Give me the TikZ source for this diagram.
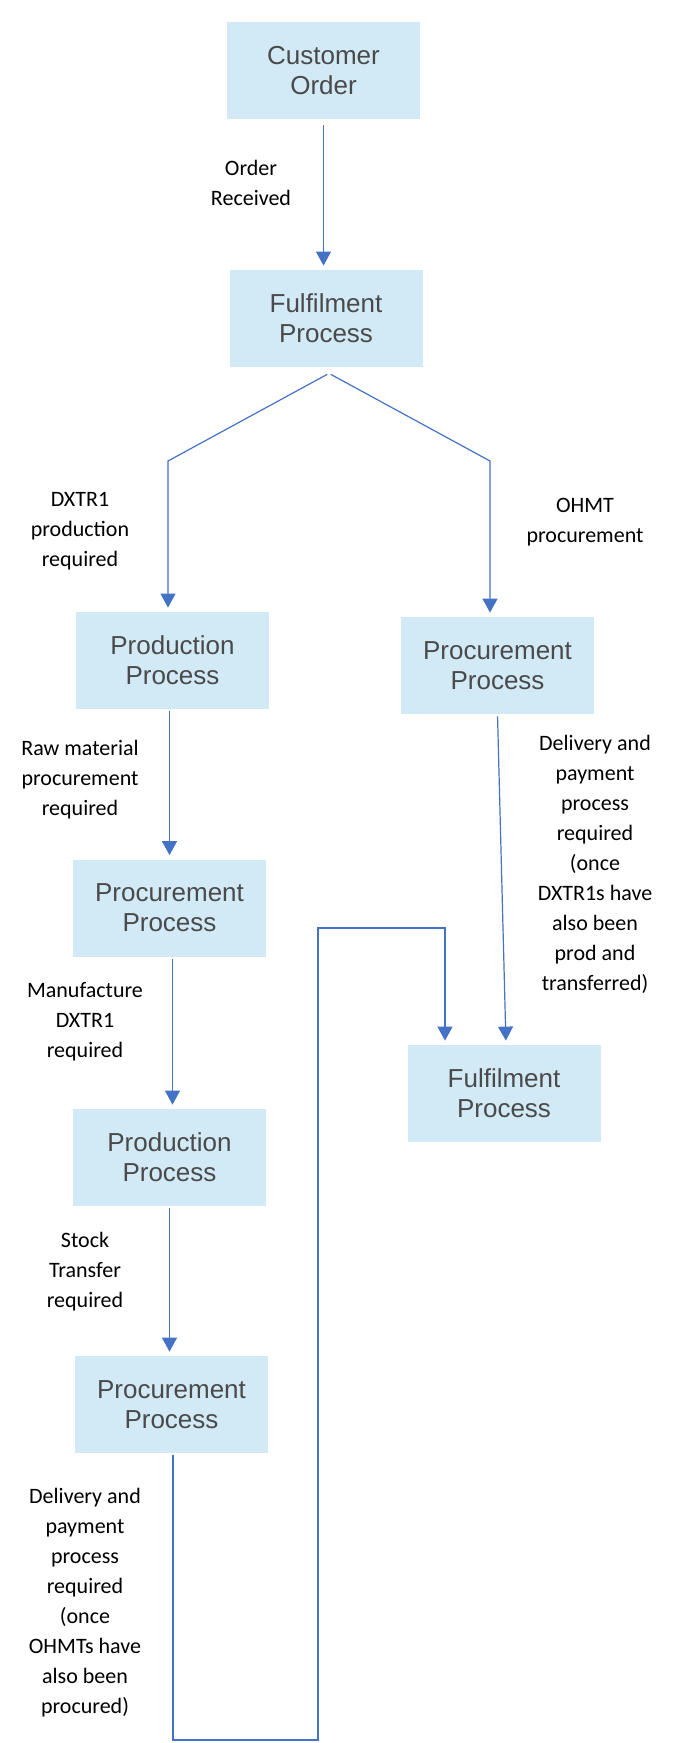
\documentclass[tikz,border=0pt]{standalone}
\usepackage{fontspec}
\setmainfont{Carlito}
\newfontfamily\boxfont{Liberation Sans}
\usepackage{tikz}
\usetikzlibrary{arrows.meta}
\definecolor{boxblue}{HTML}{D2E9F6}
\definecolor{lineblue}{HTML}{4472C4}
\definecolor{boxtext}{HTML}{4A4A4A}

\begin{document}
\begin{tikzpicture}[x=0.5pt, y=-0.5pt,
    process/.style={fill=boxblue, minimum width=96.5pt, minimum height=48.5pt,
      inner sep=0pt, align=center, text=boxtext,
      font=\boxfont\fontsize{13}{15}\selectfont},
    note/.style={align=center, font=\fontsize{11}{15}\selectfont},
    flow/.style={draw=lineblue, line width=0.6pt,
      -{Triangle[length=7pt,width=7.5pt]}, shorten >=2pt, shorten <=1pt}]
  \useasboundingbox (0,0) rectangle (676,1743);
  % process boxes
  \node[process] (Order)   at (323.5,71)    {Customer\\Order};
  \node[process] (Fulfil)  at (326,318.5)   {Fulfilment\\Process};
  \node[process] (Prod)    at (172.5,660.5) {Production\\Process};
  \node[process] (ProcR)   at (497.5,665.5) {Procurement\\Process};
  \node[process] (ProcA)   at (169.5,908)   {Procurement\\Process};
  \node[process] (FulfilR) at (504,1093.5)  {Fulfilment\\Process};
  \node[process] (ProdB)   at (169.5,1157.5){Production\\Process};
  \node[process] (ProcB)   at (171.5,1404.5){Procurement\\Process};
  % labels
  \node[note] (OrderLbl)  at (251,182.5) {Order\\Received};
  \node[note] (DxtrLbl)   at (80,531)    {DXTR1\\production\\required};
  \node[note] (OhmtLbl)   at (585,522.5) {OHMT\\procurement};
  \node[note] (RawLbl)    at (80,780)    {Raw material\\procurement\\required};
  \node[note] (MakeLbl)   at (85,1022)   {Manufacture\\DXTR1\\required};
  \node[note] (StockLbl)  at (85,1271.5) {Stock\\Transfer\\required};
  \node[note] (DelivR)    at (595,864)   {Delivery and\\payment\\process\\required\\(once\\DXTR1s have\\also been\\prod and\\transferred)};
  \node[note] (DelivL)    at (85,1603)   {Delivery and\\payment\\process\\required\\(once\\OHMTs have\\also been\\procured)};
  % connectors
  \coordinate (Split)  at ([xshift=1.5pt,yshift=-3pt]Fulfil.south);
  \coordinate (SplitL) at (168,461);
  \coordinate (SplitR) at (490,461);
  \coordinate (LoopBR) at (318,1740);
  \coordinate (LoopTL) at (318,928);
  \coordinate (LoopTR) at (445,928);
  \draw[flow, shorten <=2.5pt] (Order.south) -- (Order.south |- Fulfil.north);
  \draw[flow] (Split) -- (SplitL) -- (SplitL |- Prod.north);
  \draw[flow] (Split) -- (SplitR) -- (SplitR |- ProcR.north);
  \draw[flow] (ProcR.south) -- ([xshift=1pt]FulfilR.north);
  \draw[flow] (ProcA.north |- Prod.south) -- (ProcA.north);
  \draw[flow] ([xshift=1.5pt]ProcA.south) -- ([xshift=1.5pt]ProdB.north);
  \draw[flow] (ProdB.south) -- (ProdB.south |- ProcB.north);
  \draw[flow] ([xshift=0.75pt]ProcB.south) |- (LoopBR) -- (LoopTL) -- (LoopTR)
    -- (LoopTR |- FulfilR.north);
\end{tikzpicture}
\end{document}
